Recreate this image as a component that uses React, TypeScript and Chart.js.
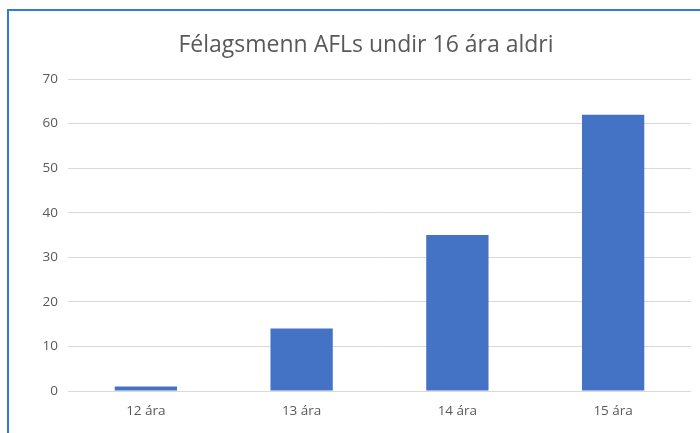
import React, { useEffect, useRef } from "react";
import { Chart, registerables } from "chart.js";

Chart.register(...registerables);

const categories = ["12 ára", "13 ára", "14 ára", "15 ára"];
const values = [1, 14, 35, 62];
const titleText = "Félagsmenn AFLs undir 16 ára aldri";
const yMax = 70;
const yStep = 10;

export default function App() {
  const ref = useRef<HTMLCanvasElement | null>(null);

  useEffect(() => {
    if (!ref.current) return;
    const chart = new Chart(ref.current, {
      type: "bar",
      data: {
        labels: categories,
        datasets: [
          {
            data: values,
            backgroundColor: "#4472C4",
            borderWidth: 0,
            categoryPercentage: 1,
            barPercentage: 0.4,
          },
        ],
      },
      options: {
        animation: false,
        responsive: false,
        maintainAspectRatio: false,
        layout: { padding: { left: 41, right: 9, top: 0, bottom: 0 } },
        plugins: {
          legend: { display: false },
          tooltip: { enabled: false },
          title: {
            display: true,
            text: titleText,
            color: "#595959",
            font: { family: "Open Sans", size: 23, weight: "normal" },
            padding: { top: 31.2, bottom: 20.2 },
          },
        },
        scales: {
          x: {
            grid: { display: false, drawTicks: false },
            border: { display: false },
            ticks: {
              color: "#595959",
              font: { family: "Open Sans", size: 13.5 },
              padding: 12,
            },
            afterFit: (s: any) => {
              s.height = 42;
            },
          },
          y: {
            min: 0,
            max: yMax,
            grid: { color: "#D9D9D9", drawTicks: false, lineWidth: 1 },
            border: { display: false },
            ticks: {
              stepSize: yStep,
              color: "#595959",
              font: { family: "Open Sans", size: 13.5 },
              padding: 10,
            },
            afterFit: (s: any) => {
              s.width = 27;
            },
          },
        },
      },
    });
    return () => chart.destroy();
  }, []);

  return (
    <div style={{ position: "fixed", left: 0, top: 0, width: 700, height: 433, background: "#fff", overflow: "hidden" }}>
      <canvas ref={ref} width={700} height={433} style={{ position: "absolute", left: 0, top: 0, width: 700, height: 433 }} />
      <div
        style={{
          position: "absolute",
          left: 7,
          top: 9,
          width: 720,
          height: 460,
          borderLeft: "2px solid #2E7BD1",
          borderTop: "2px solid #2E7BD1",
          pointerEvents: "none",
        }}
      />
    </div>
  );
}
